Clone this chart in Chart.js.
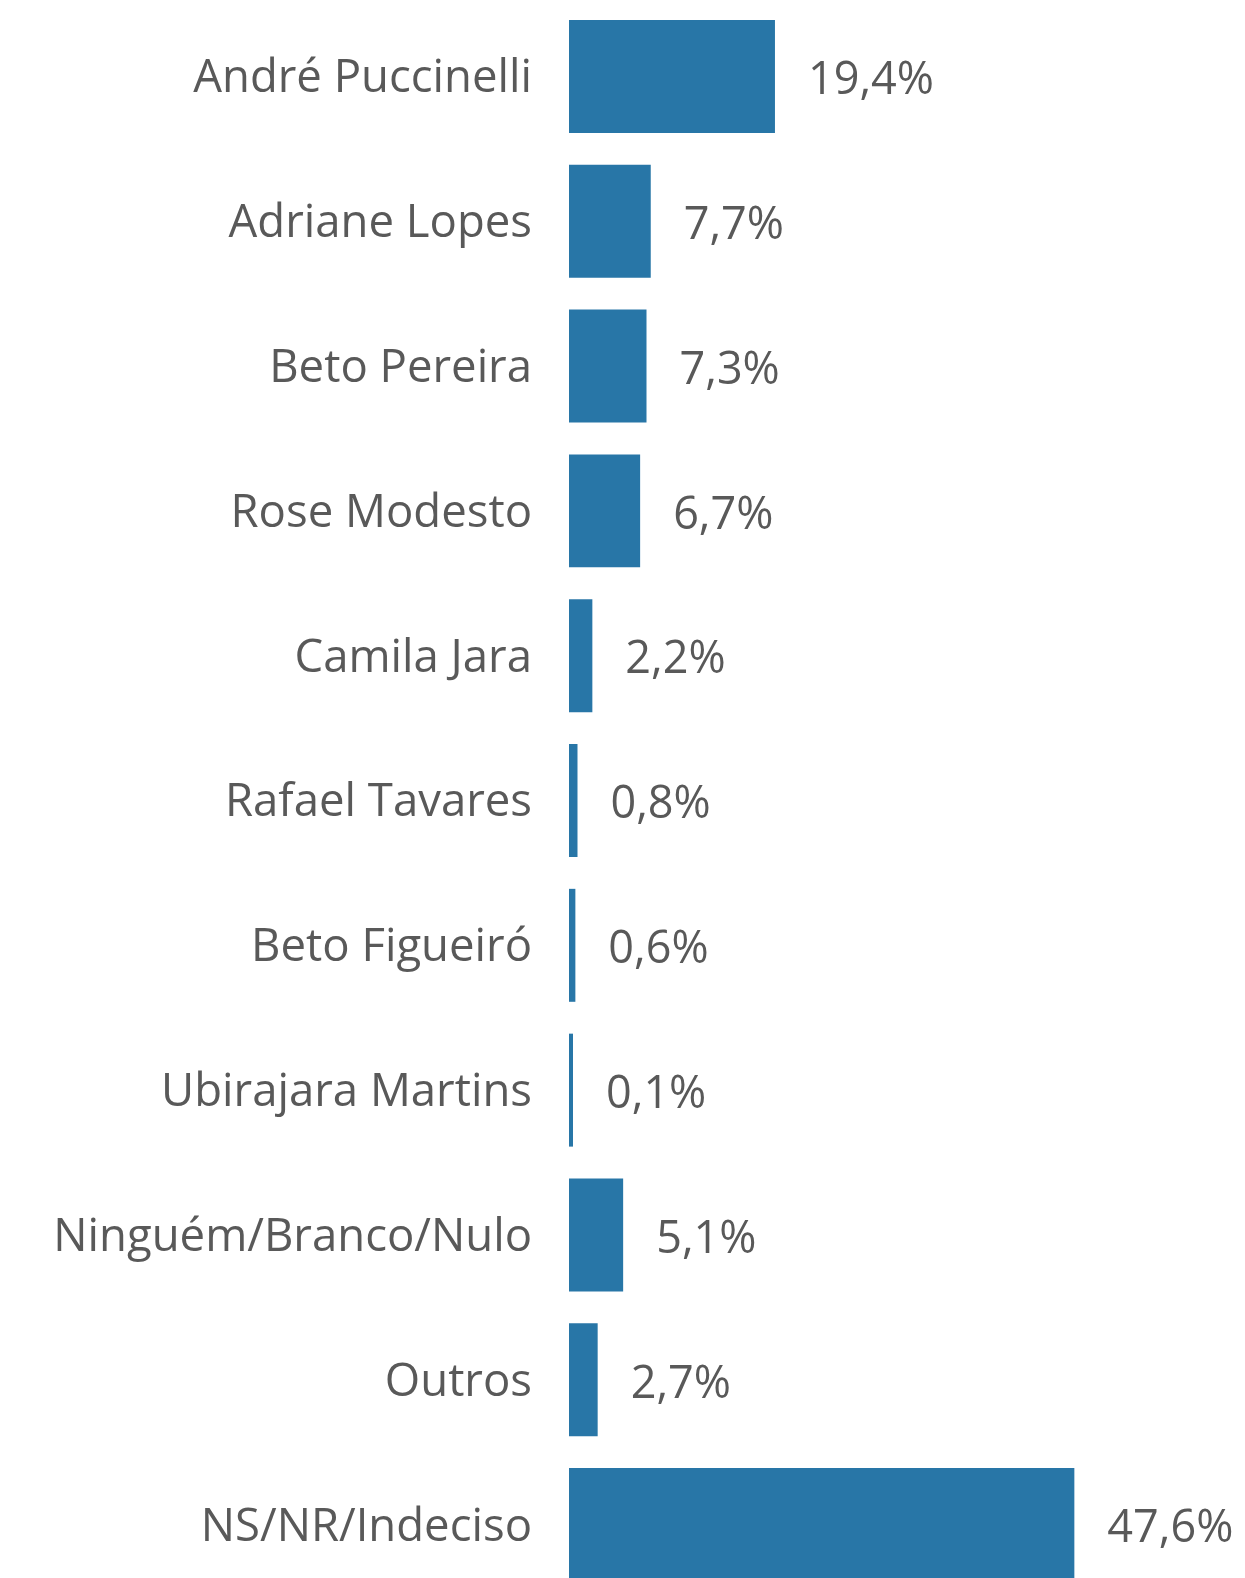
<!DOCTYPE html>
<html>
<head>
<meta charset="utf-8">
<script src="https://cdn.jsdelivr.net/npm/chart.js@4.4.0/dist/chart.umd.min.js"></script>
<style>
  html, body { margin: 0; padding: 0; background: #fff; overflow: hidden; }
</style>
</head>
<body>
<canvas id="chart" width="1245" height="1600"></canvas>
<script>
const candidates = [
  "André Puccinelli", "Adriane Lopes", "Beto Pereira", "Rose Modesto", "Camila Jara",
  "Rafael Tavares", "Beto Figueiró", "Ubirajara Martins", "Ninguém/Branco/Nulo",
  "Outros", "NS/NR/Indeciso"
];
const percents = [19.4, 7.7, 7.3, 6.7, 2.2, 0.8, 0.6, 0.1, 5.1, 2.7, 47.6];

const textColor = "#595959";
const barColor = "#2876a7";
const fontFamily = "'Open Sans', 'Noto Sans', sans-serif";

// writes "19,4%" next to each bar
const valueLabels = {
  id: "valueLabels",
  afterDatasetsDraw(chart) {
    const ctx = chart.ctx;
    const meta = chart.getDatasetMeta(0);
    ctx.save();
    ctx.fillStyle = textColor;
    ctx.font = "45px " + fontFamily;
    ctx.textAlign = "left";
    ctx.textBaseline = "middle";
    meta.data.forEach((bar, i) => {
      let txt = percents[i].toFixed(1).replace(".", ",") + "%";
      ctx.fillText(txt, bar.x + 33, bar.y + 5);
    });
    ctx.restore();
  }
};

new Chart(document.getElementById("chart"), {
  type: "bar",
  data: {
    labels: candidates,
    datasets: [{
      data: percents,
      backgroundColor: barColor,
      barPercentage: 0.78,
      categoryPercentage: 1.0,
      minBarLength: 4
    }]
  },
  options: {
    indexAxis: "y",
    responsive: false,
    animation: false,
    layout: { padding: { top: 4, bottom: 3, left: 0, right: 39 } },
    plugins: { legend: { display: false }, tooltip: { enabled: false } },
    scales: {
      x: {
        display: false,
        min: 0,
        max: 60
      },
      y: {
        grid: { display: false, drawTicks: false },
        border: { display: false },
        afterFit(scale) {
          scale.width = 569;
          scale.paddingTop = 0;
          scale.paddingBottom = 0;
        },
        ticks: {
          color: textColor,
          padding: 37,
          labelOffset: 3,
          font: { family: fontFamily, size: 45.5 }
        }
      }
    }
  },
  plugins: [valueLabels]
});
</script>
</body>
</html>
